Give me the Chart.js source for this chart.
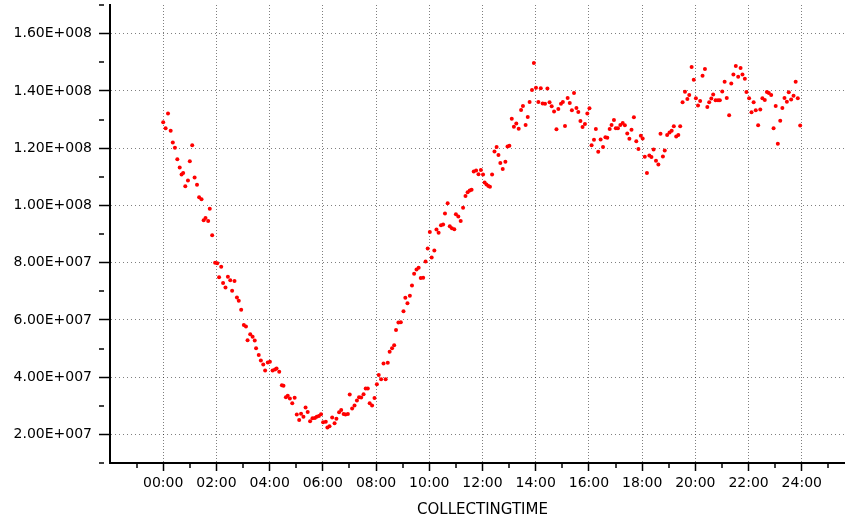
<!DOCTYPE html>
<html>
<head>
<meta charset="utf-8">
<script src="https://cdn.jsdelivr.net/npm/chart.js@4.4.0/dist/chart.umd.min.js"></script>
<style>
  html, body { margin: 0; padding: 0; background: #fff; overflow: hidden; }
  #wrap { width: 845px; height: 521px; overflow: hidden; }
</style>
</head>
<body>
<div id="wrap"><canvas id="chart" width="860" height="521"></canvas></div>
<script>
// collecting time, in hours since 00:00
const hours = [
  0.00, 0.09, 0.18, 0.28, 0.36, 0.44, 0.53, 0.62, 0.69, 0.75, 0.83, 0.93, 1.00, 1.09, 1.18, 1.27, 1.35, 1.44, 1.52, 1.59,
  1.69, 1.75, 1.84, 1.95, 2.03, 2.10, 2.18, 2.25, 2.34, 2.43, 2.52, 2.59, 2.68, 2.77, 2.84, 2.93, 3.03, 3.11, 3.17, 3.27,
  3.36, 3.44, 3.49, 3.59, 3.67, 3.76, 3.83, 3.93, 4.01, 4.11, 4.20, 4.26, 4.36, 4.46, 4.52, 4.61, 4.68, 4.76,
  4.85, 4.94, 5.02, 5.11, 5.18, 5.27, 5.35, 5.43, 5.52, 5.61, 5.70, 5.77, 5.85, 5.93, 6.01, 6.11, 6.17, 6.25, 6.35, 6.44,
  6.51, 6.61, 6.69, 6.78, 6.85, 6.94, 7.01, 7.10, 7.19, 7.28, 7.36, 7.44, 7.53, 7.61, 7.69, 7.76, 7.85, 7.94, 8.03, 8.10,
  8.19, 8.28, 8.36, 8.44, 8.51, 8.60, 8.68, 8.75, 8.84, 8.93, 9.03, 9.10, 9.18, 9.27, 9.35, 9.43, 9.52, 9.60, 9.68, 9.77,
  9.86, 9.94, 10.02,
  10.09, 10.19, 10.27, 10.35, 10.44, 10.52, 10.59, 10.69, 10.77, 10.85, 10.94, 11.00, 11.09, 11.18, 11.27, 11.36, 11.44, 11.52, 11.59, 11.67,
  11.76, 11.85, 11.94, 12.02, 12.08, 12.15, 12.22, 12.28, 12.36, 12.45, 12.53, 12.60, 12.67, 12.76, 12.86, 12.94, 13.01, 13.10, 13.18, 13.27,
  13.36, 13.45, 13.52, 13.62, 13.70, 13.77, 13.86, 13.93, 14.01, 14.10, 14.19, 14.26, 14.35, 14.44, 14.52, 14.60, 14.69, 14.78, 14.85, 14.95,
  15.02, 15.10, 15.20, 15.28,
  15.36, 15.44, 15.53, 15.60, 15.68, 15.76, 15.85, 15.94, 16.02, 16.10, 16.19, 16.26, 16.35, 16.44, 16.53, 16.62, 16.69, 16.78, 16.85, 16.94,
  17.01, 17.09, 17.18, 17.27, 17.35, 17.44, 17.52, 17.60, 17.69, 17.78, 17.86, 17.95, 18.02, 18.10, 18.18, 18.27, 18.35, 18.43, 18.52, 18.61,
  18.69, 18.78, 18.85, 18.94, 19.03, 19.11, 19.19, 19.28, 19.36, 19.43, 19.52, 19.61, 19.70, 19.77, 19.86, 19.94, 20.02, 20.10, 20.18,
  20.27, 20.36, 20.45, 20.52, 20.60, 20.67, 20.76, 20.85, 20.92, 21.01, 21.10, 21.18, 21.27, 21.35, 21.43, 21.52, 21.61, 21.70, 21.77, 21.86,
  21.92, 22.02, 22.11, 22.19, 22.27, 22.36, 22.44, 22.52, 22.61, 22.69, 22.76, 22.85, 22.94, 23.02, 23.10, 23.19, 23.27, 23.35, 23.44, 23.51,
  23.60, 23.69, 23.77, 23.85, 23.94
];

// measured value at each collecting time
const values = [
  12.90e7, 12.69e7, 13.21e7, 12.61e7, 12.20e7, 12.01e7, 11.61e7, 11.32e7, 11.08e7, 11.13e7, 10.67e7, 10.87e7, 11.54e7, 12.10e7, 10.97e7, 10.72e7, 10.28e7, 10.21e7, 9.48e7, 9.56e7,
  9.45e7, 9.88e7, 8.96e7, 8.00e7, 7.98e7, 7.49e7, 7.86e7, 7.29e7, 7.13e7, 7.51e7, 7.38e7, 7.02e7, 7.36e7, 6.78e7, 6.67e7, 6.35e7, 5.82e7, 5.77e7, 5.29e7, 5.50e7,
  5.41e7, 5.28e7, 5.01e7, 4.77e7, 4.58e7, 4.44e7, 4.23e7, 4.51e7, 4.54e7, 4.23e7, 4.27e7, 4.30e7, 4.19e7, 3.72e7, 3.70e7, 3.30e7, 3.35e7, 3.25e7,
  3.09e7, 3.28e7, 2.69e7, 2.50e7, 2.72e7, 2.62e7, 2.94e7, 2.78e7, 2.46e7, 2.56e7, 2.57e7, 2.62e7, 2.64e7, 2.70e7, 2.42e7, 2.44e7, 2.24e7, 2.28e7, 2.59e7, 2.39e7,
  2.55e7, 2.77e7, 2.85e7, 2.71e7, 2.69e7, 2.71e7, 3.39e7, 2.90e7, 3.01e7, 3.18e7, 3.30e7, 3.29e7, 3.40e7, 3.60e7, 3.60e7, 3.09e7, 3.01e7, 3.27e7, 3.75e7, 4.07e7,
  3.93e7, 4.48e7, 3.93e7, 4.50e7, 4.89e7, 5.01e7, 5.11e7, 5.65e7, 5.91e7, 5.92e7, 6.30e7, 6.77e7, 6.58e7, 6.84e7, 7.20e7, 7.61e7, 7.76e7, 7.82e7, 7.46e7, 7.47e7,
  8.04e7, 8.49e7, 9.07e7,
  8.18e7, 8.42e7, 9.16e7, 9.04e7, 9.31e7, 9.33e7, 9.72e7, 10.07e7, 9.27e7, 9.20e7, 9.17e7, 9.69e7, 9.61e7, 9.45e7, 9.92e7, 10.33e7, 10.46e7, 10.52e7, 10.55e7, 11.18e7,
  11.22e7, 11.09e7, 11.24e7, 11.08e7, 10.80e7, 10.73e7, 10.68e7, 10.65e7, 11.08e7, 11.88e7, 12.04e7, 11.76e7, 11.48e7, 11.27e7, 11.52e7, 12.06e7, 12.08e7, 13.03e7, 12.75e7, 12.86e7,
  12.68e7, 13.33e7, 13.47e7, 12.81e7, 13.09e7, 13.61e7, 14.03e7, 14.97e7, 14.11e7, 13.61e7, 14.09e7, 13.56e7, 13.55e7, 14.08e7, 13.60e7, 13.46e7, 13.28e7, 12.66e7, 13.37e7, 13.55e7,
  13.61e7, 12.77e7, 13.75e7, 13.58e7,
  13.32e7, 13.93e7, 13.40e7, 13.26e7, 12.95e7, 12.74e7, 12.84e7, 13.21e7, 13.39e7, 12.10e7, 12.29e7, 12.67e7, 11.87e7, 12.30e7, 12.04e7, 12.38e7, 12.36e7, 12.67e7, 12.81e7, 12.98e7,
  12.69e7, 12.69e7, 12.81e7, 12.88e7, 12.80e7, 12.51e7, 12.33e7, 12.64e7, 13.08e7, 12.24e7, 11.97e7, 12.43e7, 12.34e7, 11.70e7, 11.13e7, 11.74e7, 11.69e7, 11.95e7, 11.56e7, 11.43e7,
  12.50e7, 11.71e7, 11.92e7, 12.46e7, 12.55e7, 12.61e7, 12.76e7, 12.41e7, 12.46e7, 12.76e7, 13.60e7, 13.97e7, 13.72e7, 13.86e7, 14.83e7, 14.39e7, 13.74e7, 13.49e7, 13.65e7,
  14.53e7, 14.76e7, 13.44e7, 13.60e7, 13.73e7, 13.87e7, 13.67e7, 13.67e7, 13.67e7, 13.98e7, 14.32e7, 13.75e7, 13.15e7, 14.26e7, 14.57e7, 14.87e7, 14.49e7, 14.80e7, 14.57e7, 14.42e7,
  13.96e7, 13.74e7, 13.25e7, 13.60e7, 13.32e7, 12.80e7, 13.35e7, 13.74e7, 13.68e7, 13.96e7, 13.93e7, 13.86e7, 12.69e7, 13.47e7, 12.15e7, 12.96e7, 13.40e7, 13.75e7, 13.62e7, 13.95e7,
  13.70e7, 13.83e7, 14.32e7, 13.74e7, 12.79e7
];

// labelled x ticks (every 2 hours)
const hourLabels = ['00:00', '02:00', '04:00', '06:00', '08:00', '10:00', '12:00',
                    '14:00', '16:00', '18:00', '20:00', '22:00', '24:00'];
// labelled y ticks
const yLabels = ['2.00E+007', '4.00E+007', '6.00E+007', '8.00E+007', '1.00E+008',
                 '1.20E+008', '1.40E+008', '1.60E+008'];

const axisFont = { family: 'DejaVu Sans', size: 14 };
const points = hours.map((h, i) => ({ x: h, y: values[i] }));

const isMajorX = v => Number.isInteger(v / 2) && v >= 0 && v <= 24;
const yStep = v => Math.round(v / 1e7);
const isMajorY = v => yStep(v) % 2 === 0 && yStep(v) >= 2 && yStep(v) <= 16;

new Chart(document.getElementById('chart').getContext('2d'), {
  type: 'scatter',
  data: {
    datasets: [{
      data: points,
      backgroundColor: '#ff0000',
      borderWidth: 0,
      pointRadius: 2,
      pointHoverRadius: 2
    }]
  },
  options: {
    responsive: false,
    animation: false,
    devicePixelRatio: 1,
    layout: { padding: { left: 0, top: 5, right: 5, bottom: 0 } },
    plugins: { legend: { display: false }, tooltip: { enabled: false } },
    scales: {
      x: {
        type: 'linear',
        min: -2,
        max: 26,
        afterFit: s => { s.height = 58; s.paddingLeft = 0; s.paddingRight = 0; },
        ticks: {
          stepSize: 1,
          autoSkip: false,
          maxRotation: 0,
          padding: 4,
          color: '#000',
          font: axisFont,
          callback: v => isMajorX(v) ? hourLabels[v / 2] : ''
        },
        grid: {
          drawOnChartArea: true,
          tickLength: 8,
          color: c => isMajorX(c.tick.value) ? 'rgba(0,0,0,0.5)' : 'rgba(0,0,0,0)',
          lineWidth: c => isMajorX(c.tick.value) ? 1 : 0,
          tickColor: c => c.tick.value === -2 || c.tick.value === 26 ? 'rgba(0,0,0,0)' : '#000',
          tickWidth: 1.5,
          tickBorderDash: c => isMajorX(c.tick.value) ? [] : [4, 100]
        },
        border: { color: '#000', width: 2, dash: [1, 2] },
        title: {
          display: true,
          text: 'COLLECTINGTIME',
          color: '#000',
          font: { family: 'DejaVu Sans', size: 15 },
          padding: { top: 0, bottom: 2 }
        }
      },
      y: {
        min: 1e7,
        max: 1.7e8,
        afterFit: s => { s.width = 110; s.paddingTop = 0; s.paddingBottom = 0; },
        ticks: {
          stepSize: 1e7,
          autoSkip: false,
          padding: 7,
          color: '#000',
          font: axisFont,
          callback: v => isMajorY(v) ? yLabels[yStep(v) / 2 - 1] : ''
        },
        grid: {
          tickLength: 11,
          color: c => isMajorY(c.tick.value) ? 'rgba(0,0,0,0.5)' : 'rgba(0,0,0,0)',
          lineWidth: c => isMajorY(c.tick.value) ? 1 : 0,
          tickColor: '#000',
          tickWidth: 1.5,
          tickBorderDash: c => isMajorY(c.tick.value) ? [] : [5, 100]
        },
        border: { color: '#000', width: 2, dash: [1, 3] }
      }
    }
  }
});
</script>
</body>
</html>
